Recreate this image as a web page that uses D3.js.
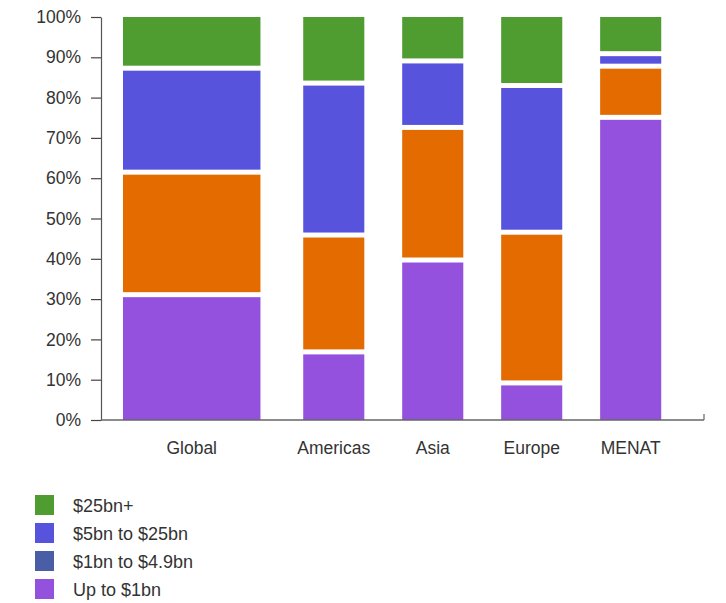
<!DOCTYPE html>
<html>
<head>
<meta charset="utf-8">
<script src="https://cdn.jsdelivr.net/npm/d3@7"></script>
<style>
  html, body { margin: 0; padding: 0; background: #fff; }
  svg { display: block; font-family: "Liberation Sans", Arial, sans-serif; }
</style>
</head>
<body>
<svg id="chart" width="726" height="603"></svg>
<script>
// ---- data ----
const categories = ["Global", "Americas", "Asia", "Europe", "MENAT"];
const seriesNames = ["Up to $1bn", "$1bn to $4.9bn", "$5bn to $25bn", "$25bn+"];
const upTo1bn      = [31.1, 16.9, 39.7,  9.2, 75.1];
const bn1to4_9     = [30.4, 29.0, 32.9, 37.4, 12.7];
const bn5to25      = [25.8, 37.7, 16.5, 36.4,  3.1];
const bn25plus     = [12.7, 16.4, 10.9, 17.0,  9.1];
const yTickValues  = [0, 10, 20, 30, 40, 50, 60, 70, 80, 90, 100];
const legendNames  = ["$25bn+", "$5bn to $25bn", "$1bn to $4.9bn", "Up to $1bn"];

// ---- style / layout ----
const barColors    = ["#9351de", "#e46b00", "#5853dd", "#4f9c30"];
const legendColors = ["#4f9c30", "#5853dd", "#4a5ea6", "#9351de"];
const widthUnits   = [2.25, 1, 1, 1, 1];
const gapUnits     = [0.36, 0.7, 0.62, 0.62, 0.62, 0.7];

const svg = d3.select("#chart");
const plot = { left: 101, right: 704, top: 17, bottom: 420 };

// cumulative unit layout
const starts = [];
let acc = 0;
widthUnits.forEach((w, i) => { acc += gapUnits[i]; starts.push(acc); acc += w; });
acc += gapUnits[gapUnits.length - 1];
const x = d3.scaleLinear().domain([0, acc]).range([plot.left, plot.right]);
const y = d3.scaleLinear().domain([0, 100]).range([plot.bottom, plot.top]);

const valuesBySeries = [upTo1bn, bn1to4_9, bn5to25, bn25plus];
const table = categories.map((c, i) => {
  const row = { cat: c };
  seriesNames.forEach((s, j) => row[s] = valuesBySeries[j][i]);
  return row;
});
const stack = d3.stack().keys(seriesNames)(table);

// bars
const gap = 5;
stack.forEach((layer, j) => {
  svg.append("g").selectAll("rect").data(layer).join("rect")
    .attr("x", (d, i) => x(starts[i]))
    .attr("width", (d, i) => x(starts[i] + widthUnits[i]) - x(starts[i]))
    .attr("y", d => y(d[1]) + (j === seriesNames.length - 1 ? 0 : gap / 2))
    .attr("height", d => {
      const top = y(d[1]) + (j === seriesNames.length - 1 ? 0 : gap / 2);
      const bot = y(d[0]) - (j === 0 ? 0 : gap / 2);
      return Math.max(0, bot - top);
    })
    .attr("fill", barColors[j]);
});

// y axis
const yAxis = d3.axisLeft(y).tickValues(yTickValues).tickFormat(d => d + "%")
  .tickSize(10).tickSizeOuter(0).tickPadding(10);
const gy = svg.append("g").attr("transform", `translate(${plot.left},0)`).call(yAxis);
gy.select(".domain").attr("stroke", "#555").attr("stroke-width", 1.2);
gy.selectAll(".tick line").attr("stroke", "#444").attr("stroke-width", 1.2);
gy.selectAll(".tick text").attr("fill", "#333").style("font-size", "17.5px")
  .style("font-family", "'Liberation Sans', Arial, sans-serif");

// x axis line
svg.append("line")
  .attr("x1", plot.left).attr("x2", plot.right)
  .attr("y1", y(0)).attr("y2", y(0))
  .attr("stroke", "#666").attr("stroke-width", 1.5);
svg.append("line")
  .attr("x1", plot.right).attr("x2", plot.right)
  .attr("y1", y(0)).attr("y2", y(0) - 6)
  .attr("stroke", "#666").attr("stroke-width", 1.2);

// category labels
svg.append("g").selectAll("text").data(categories).join("text")
  .attr("x", (d, i) => x(starts[i] + widthUnits[i] / 2))
  .attr("y", 454)
  .attr("text-anchor", "middle")
  .attr("fill", "#333")
  .style("font-size", "17.5px")
  .text(d => d);

// legend
const lg = svg.append("g").selectAll("g").data(legendNames).join("g")
  .attr("transform", (d, i) => `translate(35,${495 + i * 28})`);
lg.append("rect").attr("width", 19).attr("height", 20)
  .attr("fill", (d, i) => legendColors[i]);
lg.append("text").attr("x", 38).attr("y", 16.5)
  .attr("fill", "#333").style("font-size", "18px").text(d => d);
</script>
</body>
</html>
